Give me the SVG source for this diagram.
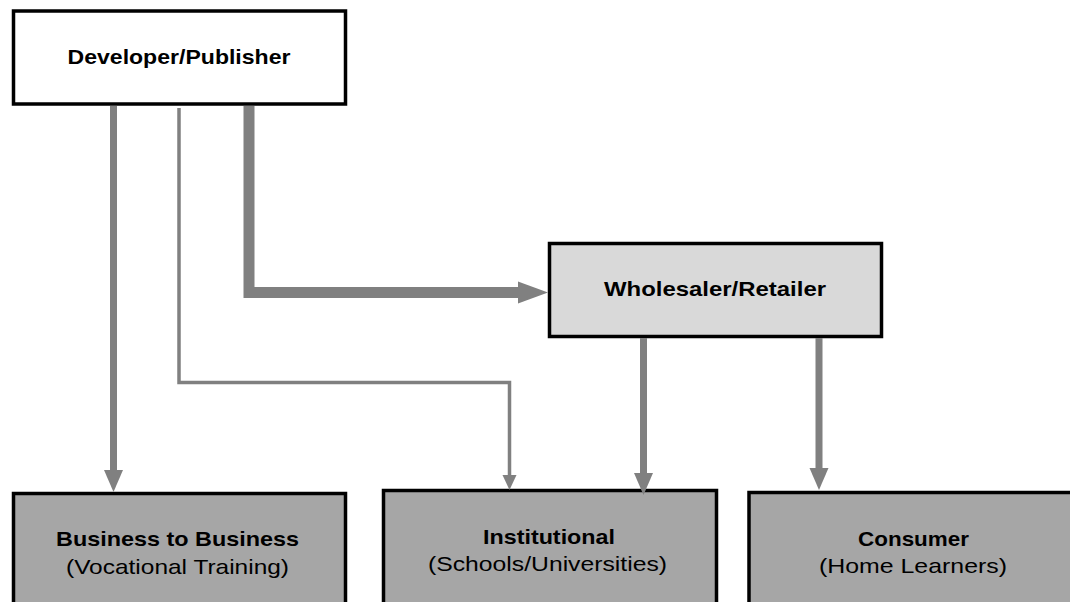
<svg xmlns="http://www.w3.org/2000/svg" width="1070" height="602" viewBox="0 0 1070 602">
<style>
.box{stroke:#000;stroke-width:3.5}
.t{font-family:"Liberation Sans",Arial,sans-serif;font-size:21px;fill:#000;text-anchor:middle}
.b{font-weight:bold}
.c{fill:none;stroke:#808080;stroke-linejoin:miter;stroke-linecap:butt}
</style>
<defs>
<marker id="aM" markerUnits="userSpaceOnUse" markerWidth="22" markerHeight="19" refX="0" refY="9.5" orient="auto" overflow="visible"><path d="M0,0 L22,9.5 L0,19 z" fill="#808080"/></marker>
<marker id="aS" markerUnits="userSpaceOnUse" markerWidth="15" markerHeight="14" refX="0" refY="7" orient="auto" overflow="visible"><path d="M0,0 L15,7 L0,14 z" fill="#808080"/></marker>
<marker id="aL" markerUnits="userSpaceOnUse" markerWidth="30" markerHeight="22" refX="0" refY="11" orient="auto" overflow="visible"><path d="M0,0 L30,11 L0,22 z" fill="#808080"/></marker>
</defs>
<rect width="1070" height="602" fill="#fff"/>
<g id="dev">
<rect class="box" x="13.5" y="11" width="332" height="93" fill="#fff"/>
<text class="t b" x="179" y="64" textLength="223" lengthAdjust="spacingAndGlyphs">Developer/Publisher</text>
</g>
<g id="wholesaler">
<rect class="box" x="549.5" y="243.5" width="332" height="93" fill="#d9d9d9"/>
<text class="t b" x="715" y="296" textLength="222" lengthAdjust="spacingAndGlyphs">Wholesaler/Retailer</text>
</g>
<g id="b2b">
<rect class="box" x="13.5" y="493.5" width="332" height="120" fill="#a6a6a6"/>
<text class="t b" x="177.5" y="546" textLength="243" lengthAdjust="spacingAndGlyphs">Business to Business</text>
<text class="t" x="177.5" y="574" textLength="223" lengthAdjust="spacingAndGlyphs">(Vocational Training)</text>
</g>
<g id="institutional">
<rect class="box" x="383.5" y="490.5" width="333" height="120" fill="#a6a6a6"/>
<text class="t b" x="549" y="544" textLength="132" lengthAdjust="spacingAndGlyphs">Institutional</text>
<text class="t" x="547.5" y="571" textLength="239" lengthAdjust="spacingAndGlyphs">(Schools/Universities)</text>
</g>
<g id="consumer">
<rect class="box" x="749" y="492.5" width="340" height="120" fill="#a6a6a6"/>
<text class="t b" x="913.5" y="546" textLength="111" lengthAdjust="spacingAndGlyphs">Consumer</text>
<text class="t" x="913" y="573" textLength="188" lengthAdjust="spacingAndGlyphs">(Home Learners)</text>
</g>
<g id="connectors">
<path class="c" d="M113.5,106 V470" stroke-width="7" marker-end="url(#aM)"/>
<path class="c" d="M179,108 V382.5 H509.5 V475" stroke-width="3.5" marker-end="url(#aS)"/>
<path class="c" d="M249,106 V292.5 H518" stroke-width="11" marker-end="url(#aL)"/>
<path class="c" d="M643.5,338 V473" stroke-width="7" marker-end="url(#aM)"/>
<path class="c" d="M819,338 V468" stroke-width="7" marker-end="url(#aM)"/>
</g>
</svg>
